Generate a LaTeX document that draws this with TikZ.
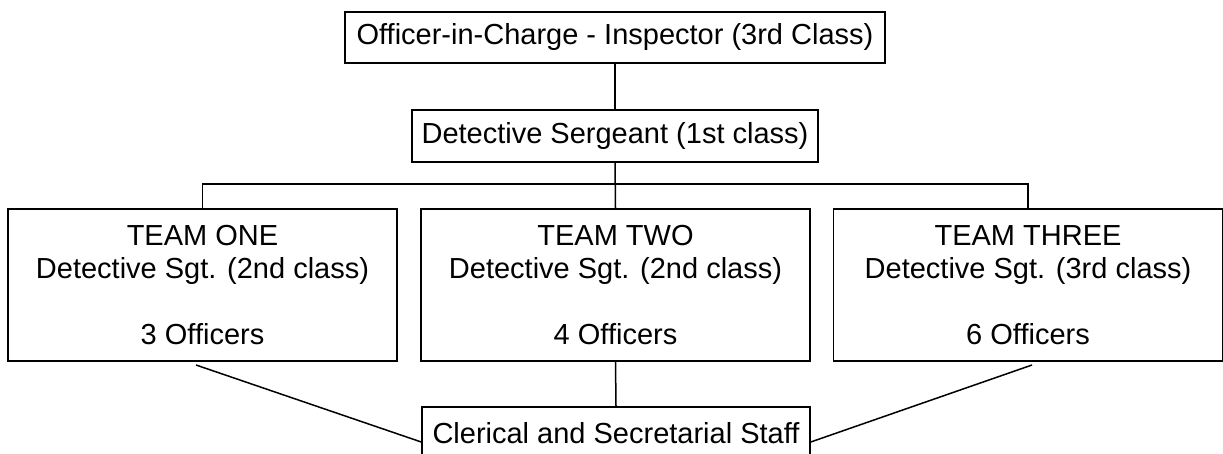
\documentclass[tikz,border=0pt]{standalone}
\usepackage{fontspec}
\setmainfont{Liberation Sans}
\begin{document}
\begin{tikzpicture}[x=1pt,y=-1pt,
  every node/.style={font=\fontsize{29}{33}\selectfont},
  post/.style={draw=black,line width=1.5pt,inner sep=0pt,align=center,
    minimum width=#1},
  post/.default=389pt,
  link/.style={draw=black,line width=1.5pt}]
\useasboundingbox (0,0) rectangle (1223,454);

% chain of command
\node[post=540pt,minimum height=51pt] (oic) at (615,37.5)
  {Officer-in-Charge - Inspector (3rd Class)};
\node[post=406pt,minimum height=52pt] (ds) at (615,136)
  {Detective Sergeant (1st class)};

% the three teams
\node[post,minimum height=152pt] (t1) at (202.5,285)
  {TEAM ONE\\Detective Sgt. (2nd class)\\[33pt]3 Officers};
\node[post,minimum height=152pt] (t2) at (615.5,285)
  {TEAM TWO\\Detective Sgt. (2nd class)\\[33pt]4 Officers};
\node[post,minimum height=152pt] (t3) at (1028,285)
  {TEAM THREE\\Detective Sgt. (3rd class)\\[33pt]6 Officers};

% support staff
\node[post=388pt,minimum height=52pt] (cl) at (616,433)
  {Clerical and Secretarial Staff};

% ends of the slanted links
\coordinate (a1) at (196,365);
\coordinate (a3) at (1032,365);
\coordinate (c1) at (cl.west |- 0,442);
\coordinate (c3) at (cl.east |- 0,442);

\draw[link] (oic.south) -- (ds.north);
\draw[link] (ds.south) -- (t2.north);
\draw[link] (t1.north) -- ++(0,-24) -| (t3.north);
\draw[link] (t2.south) -- (cl.north);
\draw[link] (a1) -- (c1);
\draw[link] (a3) -- (c3);
\end{tikzpicture}
\end{document}
